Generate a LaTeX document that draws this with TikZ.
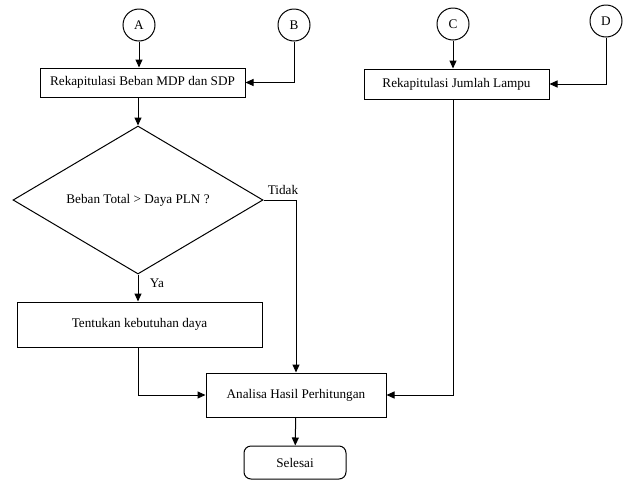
\documentclass[tikz,border=0pt]{standalone}
\usepackage{fontspec}
\setmainfont{Liberation Serif}
\usetikzlibrary{shapes.geometric,arrows.meta}

\begin{document}
\begin{tikzpicture}[
    x=1pt, y=-1pt,
    every node/.style={font=\fontsize{13.2}{15}\selectfont},
    box/.style={rectangle, draw, line width=1pt, inner sep=0pt},
    konektor/.style={circle, draw, line width=1pt, minimum size=32pt, inner sep=0pt},
    keputusan/.style={diamond, aspect=1.7, draw, line width=1pt, minimum width=250pt, minimum height=148pt, inner sep=0pt},
    akhir/.style={rectangle, draw, rounded corners=7pt, line width=1pt, minimum width=102pt, minimum height=33pt, inner sep=0pt},
    arrow/.style={-{Triangle[length=8pt,width=7pt]}, line width=1pt}
]
\useasboundingbox (0,0) rectangle (624,480);

\node[konektor] (A) at (139,25) {A};
\node[konektor] (B) at (294,25) {B};
\node[konektor] (C) at (453,24) {C};
\node[konektor] (D) at (606,21) {D};

\node[box, minimum width=205pt, minimum height=29pt] (rekap1) at (142.5,82.5) {Rekapitulasi Beban MDP dan SDP};
\node[box, minimum width=185pt, minimum height=30pt] (rekap2) at (456.5,84) {Rekapitulasi Jumlah Lampu};
\node[keputusan] (cek) at (138,200) {Beban Total > Daya PLN ?};
\node[box, minimum width=245pt, minimum height=45pt] (tentukan) at (139.5,324.5) {Tentukan kebutuhan daya};
\node[box, minimum width=180pt, minimum height=44pt] (analisa) at (296,395) {Analisa Hasil Perhitungan};
\node[akhir] (selesai) at (295,462.5) {Selesai};

\draw[arrow] (A) -- (A |- rekap1.north);
\draw[arrow] (B) |- (rekap1);
\draw[arrow] (rekap1.south -| cek.north) -- (cek.north);
\draw[arrow] (cek.south) -- node[right, xshift=8pt, yshift=5pt] {Ya} (tentukan.north -| cek.south);
\draw[arrow] (cek.east) -| node[pos=0.3, above, yshift=2pt] {Tidak} (analisa.north);
\draw[arrow] (tentukan.south -| cek.south) |- (analisa);
\draw[arrow] (C) -- (C |- rekap2.north);
\draw[arrow] (D) |- (rekap2);
\draw[arrow] (rekap2.south -| C) |- (analisa);
\draw[arrow] (analisa) -- (selesai);
\end{tikzpicture}
\end{document}
